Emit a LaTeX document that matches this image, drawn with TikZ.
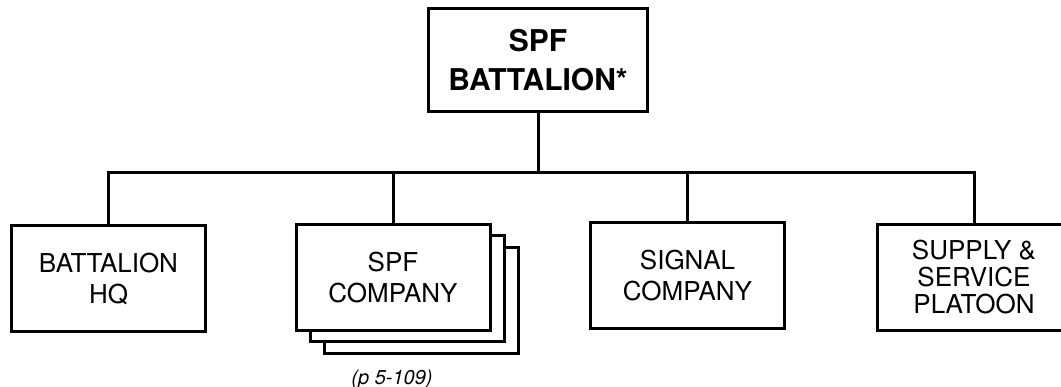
\documentclass[tikz,border=0pt]{standalone}
\usepackage{fontspec}
\setmainfont{TeX Gyre Heros}
\usetikzlibrary{positioning}

\begin{document}
\begin{tikzpicture}[
    x=1pt, y=-1pt,
    every node/.style={inner sep=2pt},
    unit/.style={draw, line width=3pt, fill=white, align=center,
        minimum width=194pt, minimum height=106pt,
        font=\fontsize{26}{31}\selectfont},
    link/.style={line width=3pt}
]
\useasboundingbox (0,0) rectangle (1061,387);

% Mando
\node[unit, minimum width=219pt, minimum height=103pt,
    font=\fontsize{30}{39}\bfseries\selectfont] (bn) at (538,60.5)
    {SPF\\BATTALION*};

% Unidades subordinadas
\node[unit] (hq) at (108.5,279) {BATTALION\\HQ};
\node[unit] (spf3) at (421,300.5) {};
\node[unit] (spf2) at (407,289) {};
\node[unit] (spf) at (393,277.5) {SPF\\COMPANY};
\node[unit] (sig) at (687.5,276) {SIGNAL\\COMPANY};
\node[unit, font=\fontsize{26}{27}\selectfont] (sup) at (974,277.5)
    {SUPPLY \&\\SERVICE\\PLATOON};
\node[font=\fontsize{20}{24}\itshape\selectfont] (ref) at (392,379)
    {(p 5-109)};

% Lineas
\coordinate (bar) at (538,173);
\draw[link] (bn.south) -- (bar);
\draw[link] (hq.north) |- (bar) -| (sup.north);
\draw[link] (spf.north) -- (spf.north |- bar);
\draw[link] (sig.north) -- (sig.north |- bar);

\end{tikzpicture}
\end{document}
